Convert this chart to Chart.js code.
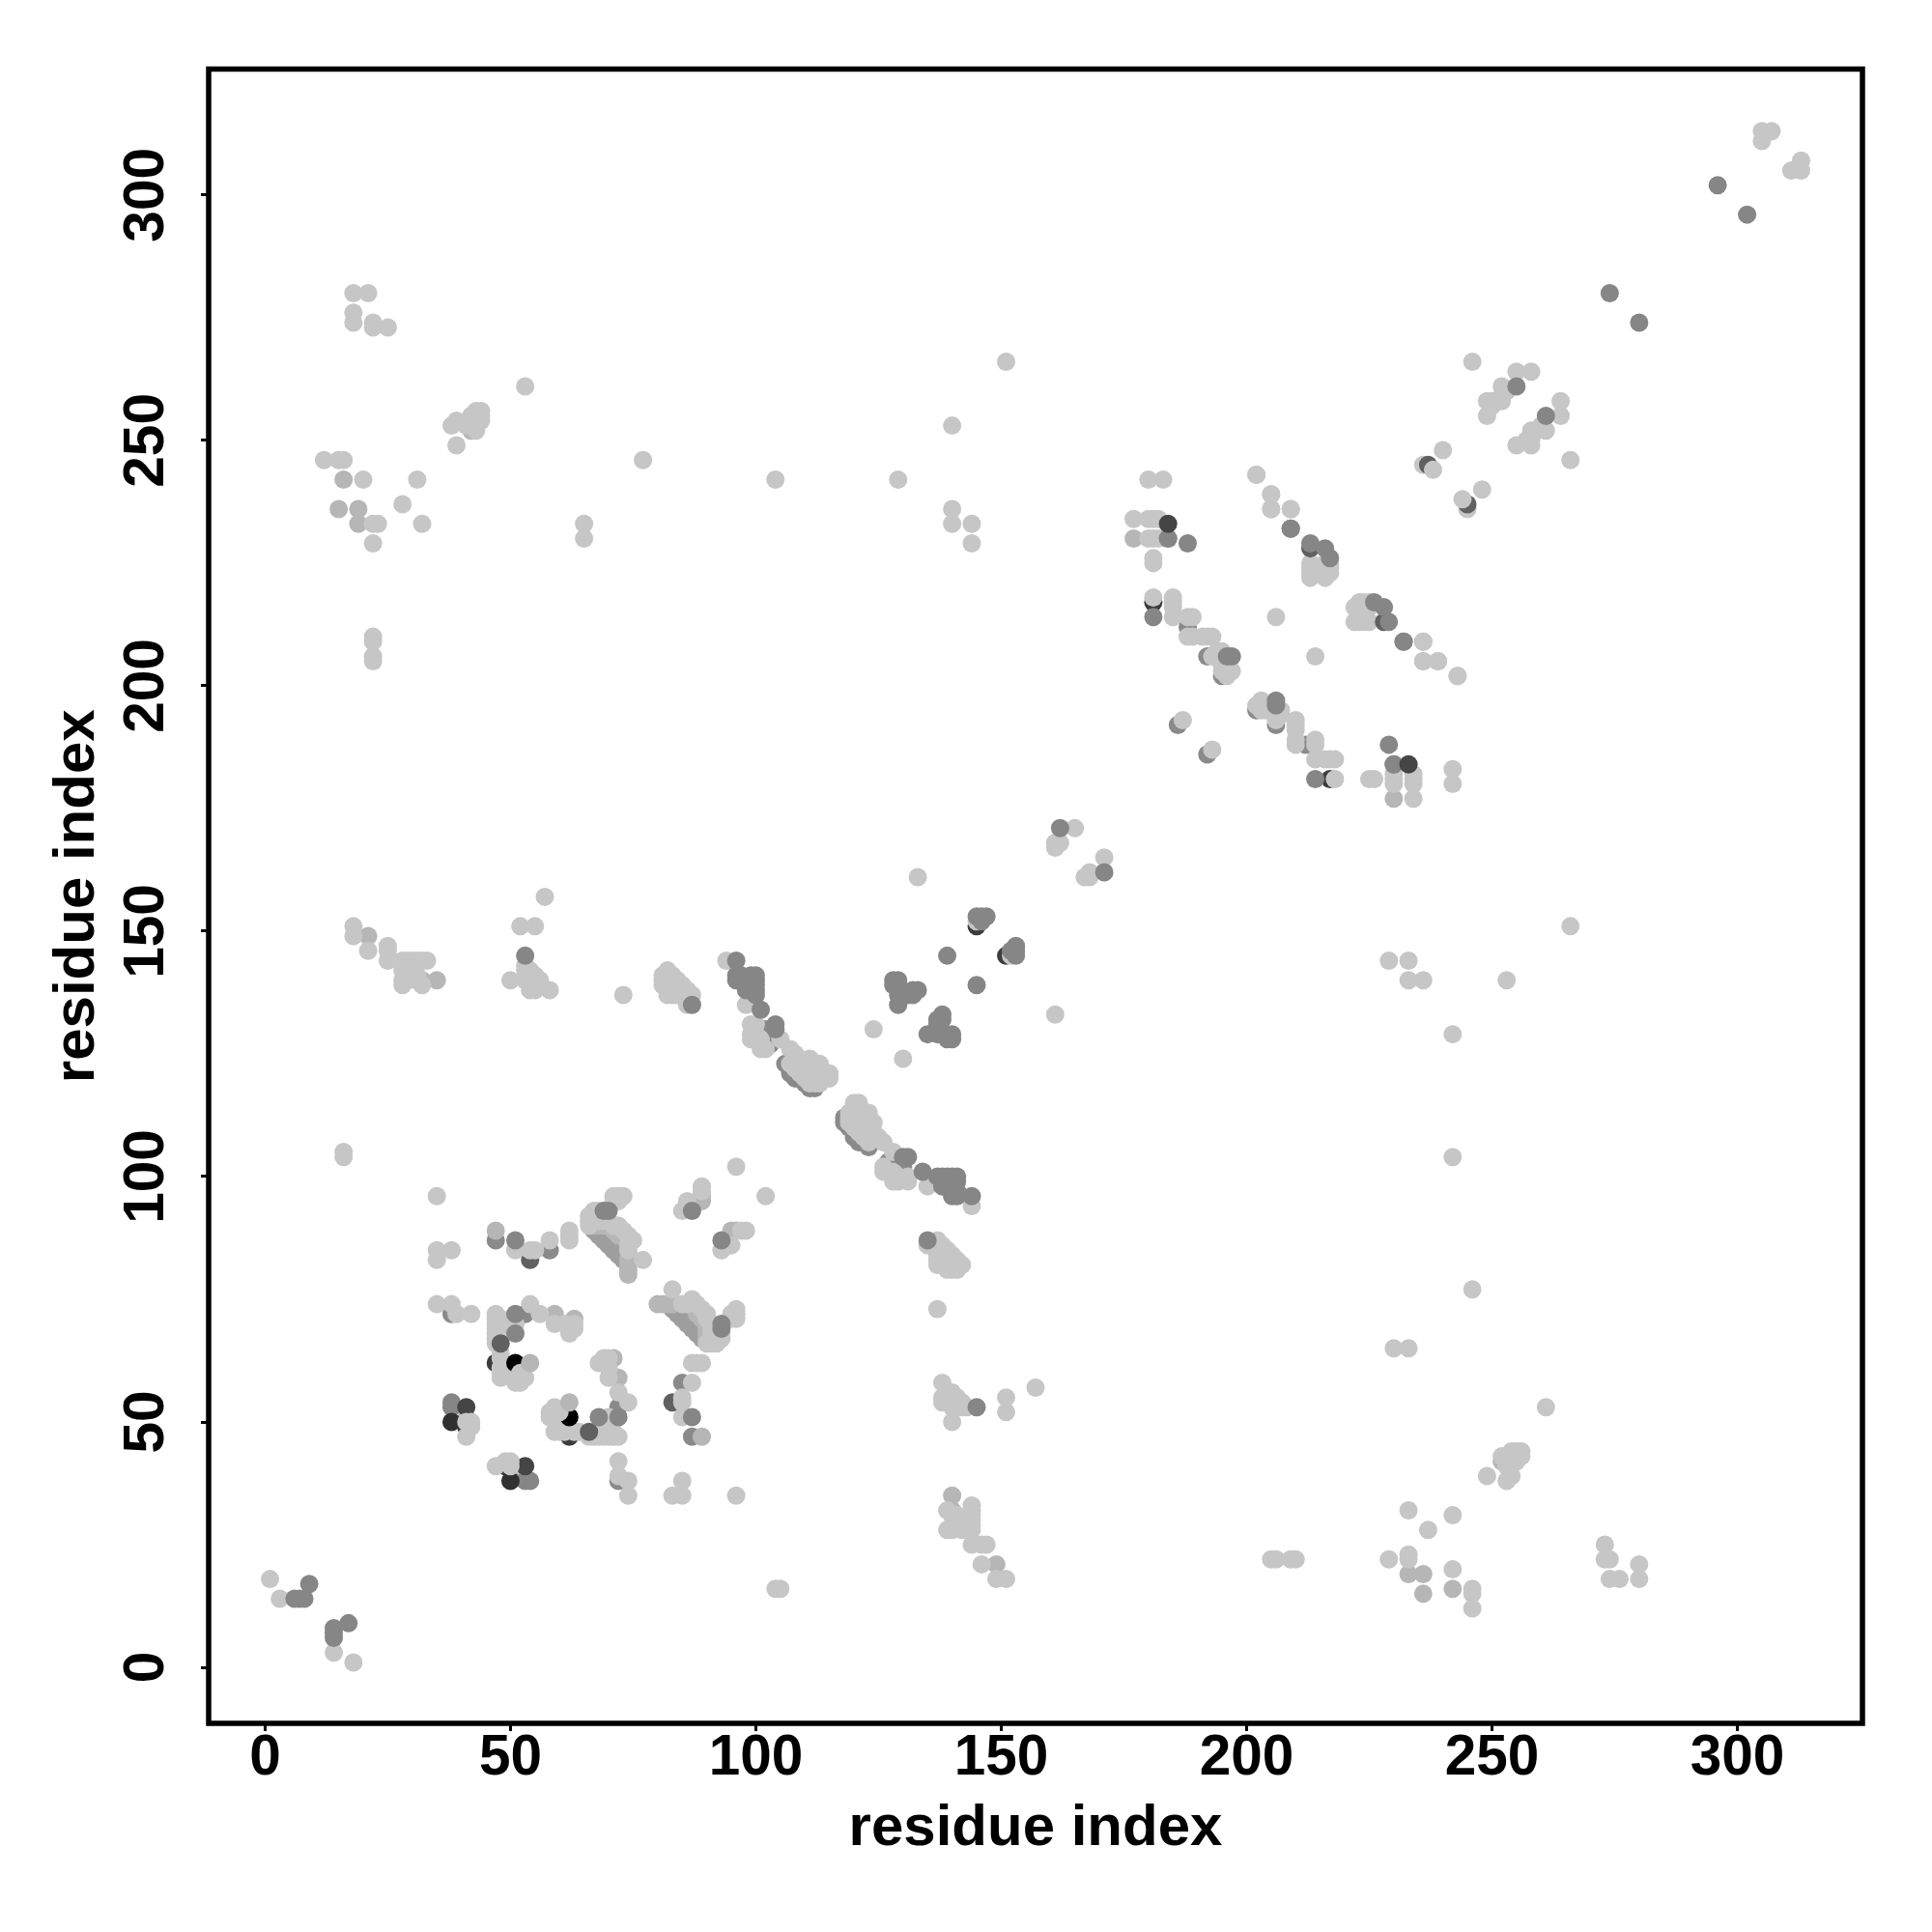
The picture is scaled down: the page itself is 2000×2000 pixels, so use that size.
<!DOCTYPE html>
<html>
<head>
<meta charset="utf-8">
<title>residue contacts</title>
<script src="https://cdn.jsdelivr.net/npm/chart.js@4"></script>
<style>
html, body { margin: 0; padding: 0; background: #fff; }
canvas { display: block; }
</style>
</head>
<body>
<canvas id="contactChart" width="2000" height="2000"></canvas>
<script>
// Contacts as [i, j] with i < j. The map is symmetric, so each one is also drawn as [j, i].
const axisLabel = 'residue index';
const tickStep = 50;

// these sit under the light dots in the reference
const contactsUnderMid = [[106,123],[107,121],[108,120],[109,120],[110,119],[111,118],[112,118],[107,122],[103,127],[102,130],
    [47,87],[58,85],[38,72],[53,72],[186,192],[192,206],[188,212],[195,202]];
const contactsStrip = [[68,88],[69,87],[70,86],[71,85],[72,84],[73,83],[67,89],[69,89],[70,88],[71,87],[72,86],[73,85],[74,84]];
const contactsUnderDim = [[54,83]];
const contactsUnderDark = [[181,217],[145,151],[47,62],[41,49]];

const contactsLight = [[1,18],[3,14],[18,280],[21,280],[18,276],[18,274],[22,274],[22,273],[25,273],[53,261],
    [38,253],[39,254],[39,249],[43,256],[44,256],[43,255],[44,255],[43,254],[44,254],[42,255],[42,253],[43,252],[41,253],
    [12,246],[15,246],[16,246],[20,242],[31,242],[28,237],[32,233],[22,233],[23,233],[22,229],[65,233],[65,230],
    [22,210],[22,209],[22,206],[22,205],[77,246],[104,242],[129,242],[151,266],[140,253],[140,236],[140,233],[144,233],[144,229],
    [180,242],[183,242],[177,234],[180,234],[181,234],[182,234],[180,230],[181,230],[182,230],[181,226],[181,225],[181,218],
    [185,218],[185,217],[185,216],[185,214],[188,214],[189,214],[188,210],[189,210],[191,210],[192,210],[193,210],[193,206],[194,207],
    [195,203],[196,203],[197,203],[196,202],[195,204],[195,205],[195,207],[187,193],[202,243],[205,239],[205,236],[209,236],[206,214],
    [213,225],[213,224],[213,222],[213,223],[216,225],[217,225],[217,224],[217,223],[216,223],[216,222],[216,224],[214,223],
    [236,209],[236,205],[239,205],[243,202],[240,248],[236,245],[246,266],[252,261],[255,264],[258,264],
    [249,258],[250,258],[252,259],[249,255],[250,257],[252,258],[253,260],[305,311],[305,313],[307,313],
    [133,161],[161,167],[161,168],[162,168],[165,171],[145,152],[124,130],
    [47,72],[47,71],[47,70],[47,69],[47,68],[47,67],[47,66],[48,68],[48,71],[48,64],[48,63],[48,61],[48,60],[48,59],
    [50,60],[51,60],[51,70],[51,85],[51,58],[52,58],[54,85],[55,85],[54,74],[56,72],[59,70],[61,70],
    [62,68],[63,69],[63,70],[35,74],[35,83],[35,85],[35,96],[38,85],[38,74],[39,72],[42,72],[41,47],[41,51],[42,49],
    [58,87],[62,89],[62,88],[62,87],[71,96],[72,96],[73,96],[71,95],[72,95],[67,93],[68,93],[66,92],[66,91],[66,90],[67,91],[68,91],
    [69,91],[70,91],[71,90],[72,90],[73,89],[74,88],[75,87],[74,86],[74,85],[77,83],[89,98],[89,97],[86,95],[85,93],[96,102],
    [58,138],[55,138],[56,140],[50,140],[54,140],[53,142],[53,143],[53,140],[54,141],[55,141],[54,142],[54,138],[55,140],
    [29,140],[28,139],[32,139],[31,141],[32,144],[31,144],[29,144],[28,144],[30,144],[33,144],[25,144],[25,147],[25,146],[21,146],[18,149],[18,151],
    [28,140],[28,142],[52,151],[55,151],[57,157],[73,137],[16,104],[16,105],[82,142],[81,140],[81,141],[81,139],[82,137],[84,140],[83,141],
    [83,138],[84,138],[85,139],[86,138],[84,137],[83,137],[85,137],[86,135],[82,139],[84,139],[86,137],[87,137],
    [98,135],[94,144],[99,131],[100,131],[99,129],[100,129],[99,128],[101,128],[101,126],[105,128],[102,126],[107,126],[108,125],[109,124],
    [110,123],[111,124],[112,122],[113,123],[114,121],[115,121],[115,120],[113,120],[112,120],[111,121],[110,122],[109,122],[108,123],[113,119],[112,119],[111,120],
    [107,123],[108,122],[109,121],[110,120],[111,119]];

const contactsSoft = [[16,242],[15,236],[19,236],[19,233],[42,252],[177,230],[47,89],[59,72],[63,71],[35,140],[31,140],[32,140],[21,149],
    [74,82],[74,83],[74,81],[74,80],[72,88],[71,89],[70,90],[69,90],[68,90],[67,90],[89,96],[89,95]];

const contactsDim = [[237,245],[48,66],[213,228]];

const contactsMid = [[6,14],[7,14],[8,14],[9,17],[51,87],[51,72],[51,68],[38,53],[38,54],[87,135],[53,145],
    [129,135],[128,140],[129,140],[128,139],[129,139],[129,138],[129,137],[132,138],[133,138],[132,137],[131,137],[96,144],
    [96,141],[96,140],[97,141],[98,140],[99,141],[100,141],[100,140],[98,139],[99,139],[100,139],[99,138],[100,138],[98,138],[100,137],[101,134],
    [104,131],[104,130],[139,145],[145,153],[147,153],[146,152],[146,153],[162,171],[196,206],[197,206],
    [181,214],[184,230],[188,229],[209,232],[213,229],[216,228],[217,226],[230,184],[232,209],[255,261],[274,280],[296,302],
    [87,93],[69,93],[70,93]];

const contactsDark = [[184,233],[41,53]];

const contactsDeep = [[38,50]];

const contactsBlack = [[51,62]];

// a few light dots that overlap the dark ones
const contactsLightTop = [[238,244],[41,50],[42,50],[52,59],[52,60],[53,59]];
const contactsSoftTop = [[54,62]];

// draw order follows the list, later ones sit on top
const layers = [
    { contacts: contactsUnderMid, shade: '#8a8a8a' },
    { contacts: contactsStrip, shade: '#9e9e9e' },
    { contacts: contactsUnderDim, shade: '#606060' },
    { contacts: contactsUnderDark, shade: '#3c3c3c' },
    { contacts: contactsSoft, shade: '#b6b6b6' },
    { contacts: contactsLight, shade: '#c6c6c6' },
    { contacts: contactsDim, shade: '#606060' },
    { contacts: contactsMid, shade: '#868686' },
    { contacts: contactsDark, shade: '#454545' },
    { contacts: contactsDeep, shade: '#303030' },
    { contacts: contactsBlack, shade: '#000000' },
    { contacts: contactsLightTop, shade: '#c6c6c6' },
    { contacts: contactsSoftTop, shade: '#b6b6b6' }
];

function bothSides(pairs) {
    return pairs.flatMap(([i, j]) => [{ x: i, y: j }, { x: j, y: i }]);
}

const frame = {
    id: 'frame',
    afterDatasetsDraw(chart) {
        const { ctx, chartArea } = chart;
        ctx.save();
        ctx.strokeStyle = '#000';
        ctx.lineWidth = 5.5;
        ctx.strokeRect(chartArea.left, chartArea.top, chartArea.right - chartArea.left, chartArea.bottom - chartArea.top);
        ctx.restore();
    }
};

const tickFont = { family: "'Liberation Sans', sans-serif", size: 58.5, weight: 'bold' };
const titleFont = { family: "'Liberation Sans', sans-serif", size: 60, weight: 'bold' };

const axisGrid = { drawOnChartArea: false, drawTicks: true, tickLength: 8, tickWidth: 3, tickColor: '#000' };

new Chart(document.getElementById('contactChart'), {
    type: 'scatter',
    data: {
        datasets: layers.map((l, idx) => ({
            data: bothSides(l.contacts),
            backgroundColor: l.shade,
            borderWidth: 0,
            pointRadius: 9.5,
            clip: false,
            order: layers.length - idx   // higher order is painted first
        }))
    },
    options: {
        responsive: false,
        animation: false,
        events: [],
        layout: { padding: { top: 71.5, right: 72, left: 0, bottom: 0 } },
        plugins: { legend: { display: false }, tooltip: { enabled: false } },
        scales: {
            x: {
                min: -11.5,
                max: 325.5,
                border: { display: false },
                grid: axisGrid,
                afterFit(scale) { scale.height = 216; },
                ticks: { stepSize: tickStep, includeBounds: false, autoSkip: false, maxRotation: 0, color: '#000', font: tickFont, padding: -6 },
                title: { display: true, text: axisLabel, color: '#000', font: titleFont, padding: { top: 0, bottom: 71 } }
            },
            y: {
                min: -11.4,
                max: 325.65,
                border: { display: false },
                grid: axisGrid,
                afterFit(scale) { scale.width = 216; },
                ticks: { stepSize: tickStep, includeBounds: false, autoSkip: false, minRotation: 90, maxRotation: 90, crossAlign: 'center', color: '#000', font: tickFont, padding: 6 },
                title: { display: true, text: axisLabel, color: '#000', font: titleFont, padding: { top: 44, bottom: 0 } }
            }
        }
    },
    plugins: [frame]
});
</script>
</body>
</html>
